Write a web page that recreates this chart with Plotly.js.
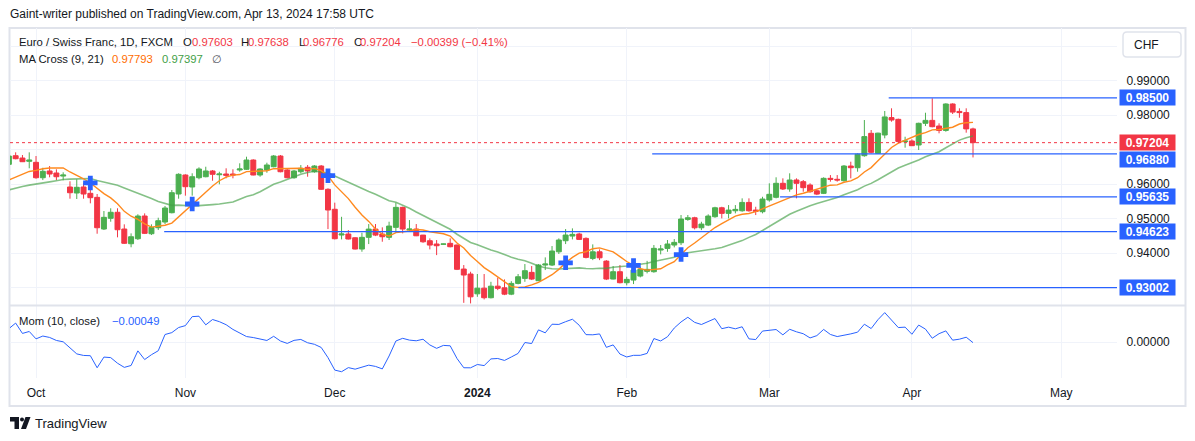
<!DOCTYPE html>
<html><head><meta charset="utf-8">
<script src="https://cdn.plot.ly/plotly-3.0.1.min.js"></script>
<style>html,body{margin:0;padding:0;background:#fff;overflow:hidden}#chart{width:1195px;height:441px}</style>
</head><body><div id="chart"></div>
<script>
// ---------- data ----------
const dates = [
"2023-09-26","2023-09-27","2023-09-28","2023-09-29",
"2023-10-02","2023-10-03","2023-10-04","2023-10-05","2023-10-06",
"2023-10-09","2023-10-10","2023-10-11","2023-10-12","2023-10-13",
"2023-10-16","2023-10-17","2023-10-18","2023-10-19","2023-10-20",
"2023-10-23","2023-10-24","2023-10-25","2023-10-26","2023-10-27",
"2023-10-30","2023-10-31",
"2023-11-01","2023-11-02","2023-11-03",
"2023-11-06","2023-11-07","2023-11-08","2023-11-09","2023-11-10",
"2023-11-13","2023-11-14","2023-11-15","2023-11-16","2023-11-17",
"2023-11-20","2023-11-21","2023-11-22","2023-11-23","2023-11-24",
"2023-11-27","2023-11-28","2023-11-29","2023-11-30",
"2023-12-01",
"2023-12-04","2023-12-05","2023-12-06","2023-12-07","2023-12-08",
"2023-12-11","2023-12-12","2023-12-13","2023-12-14","2023-12-15",
"2023-12-18","2023-12-19","2023-12-20","2023-12-21","2023-12-22",
"2023-12-25","2023-12-26","2023-12-27","2023-12-28","2023-12-29",
"2024-01-02","2024-01-03","2024-01-04","2024-01-05",
"2024-01-08","2024-01-09","2024-01-10","2024-01-11","2024-01-12",
"2024-01-15","2024-01-16","2024-01-17","2024-01-18","2024-01-19",
"2024-01-22","2024-01-23","2024-01-24","2024-01-25","2024-01-26",
"2024-01-29","2024-01-30","2024-01-31",
"2024-02-01","2024-02-02",
"2024-02-05","2024-02-06","2024-02-07","2024-02-08","2024-02-09",
"2024-02-12","2024-02-13","2024-02-14","2024-02-15","2024-02-16",
"2024-02-19","2024-02-20","2024-02-21","2024-02-22","2024-02-23",
"2024-02-26","2024-02-27","2024-02-28","2024-02-29",
"2024-03-01",
"2024-03-04","2024-03-05","2024-03-06","2024-03-07","2024-03-08",
"2024-03-11","2024-03-12","2024-03-13","2024-03-14","2024-03-15",
"2024-03-18","2024-03-19","2024-03-20","2024-03-21","2024-03-22",
"2024-03-25","2024-03-26","2024-03-27","2024-03-28","2024-03-29",
"2024-04-01","2024-04-02","2024-04-03","2024-04-04","2024-04-05",
"2024-04-08","2024-04-09","2024-04-10","2024-04-11","2024-04-12"];

const open = [
0.96576,0.96826,0.96759,0.96663,
0.96634,0.96188,0.96383,0.96325,0.96236,
0.95919,0.95745,0.95919,0.95736,0.95619,
0.94701,0.95012,0.95186,0.94701,0.94275,
0.94420,0.95078,0.94565,0.94739,0.94904,
0.95174,0.95716,
0.96267,0.95919,0.96188,
0.96217,0.96383,0.96275,0.96296,0.96296,
0.96412,0.96432,0.96701,0.96267,0.96412,
0.96507,0.96817,0.96412,0.96188,0.96362,
0.96490,0.96362,0.96527,0.95852,
0.95273,
0.94527,0.94556,0.94448,0.94121,0.94460,
0.94699,0.94555,0.94460,0.94749,0.95329,
0.94671,0.94700,0.94525,0.94362,0.94266,
0.94260,0.94286,0.94238,0.93541,0.93397,
0.92823,0.92987,0.92710,0.93045,
0.92997,0.92814,0.93125,0.93270,0.93445,
0.93203,0.93657,0.93657,0.94041,0.94362,
0.94497,0.94556,0.94430,0.93850,0.94041,
0.93771,0.93251,0.93464,
0.93145,0.93222,
0.93338,0.93474,0.93464,0.94092,0.94140,
0.94237,0.94304,0.94980,0.95027,0.94737,
0.94815,0.95058,0.95317,0.95155,0.95230,
0.95230,0.95472,0.95250,0.95203,
0.95542,
0.95620,0.96026,0.95861,0.96122,0.96074,
0.95977,0.95810,0.95735,0.96170,0.96142,
0.96102,0.96527,0.96478,0.96826,0.97475,
0.96894,0.97426,0.97930,0.97880,0.97232,
0.97252,0.97136,0.97765,0.97850,0.97687,
0.97558,0.98325,0.98110,0.98075,0.97603];

const high = [
0.96850,0.96924,0.96846,0.96924,
0.96817,0.96477,0.96526,0.96432,0.96345,
0.96084,0.96142,0.96042,0.95832,0.95716,
0.95223,0.95302,0.95302,0.94837,0.94575,
0.95128,0.95155,0.94837,0.95029,0.95368,
0.95832,0.96316,
0.96287,0.96316,0.96490,
0.96507,0.96412,0.96362,0.96461,0.96432,
0.96606,0.96797,0.96722,0.96461,0.96623,
0.96846,0.96846,0.96441,0.96412,0.96555,
0.96555,0.96555,0.96555,0.95881,
0.95465,
0.95055,0.94670,0.94460,0.94594,0.94845,
0.94845,0.94750,0.94913,0.95464,0.95348,
0.94961,0.94845,0.94530,0.94430,0.94381,
0.94275,0.94430,0.94250,0.93657,0.93463,
0.93397,0.93397,0.93171,0.93290,
0.93240,0.93190,0.93397,0.93686,0.93628,
0.93686,0.93879,0.94208,0.94430,0.94700,
0.94720,0.94594,0.94459,0.94256,0.94111,
0.93800,0.93628,0.93657,
0.93318,0.93751,
0.93608,0.93778,0.94237,0.94237,0.94382,
0.94410,0.95107,0.95107,0.95056,0.94911,
0.95127,0.95346,0.95346,0.95395,0.95395,
0.95590,0.95590,0.95346,0.95636,
0.96026,
0.96200,0.96170,0.96316,0.96170,0.96122,
0.96026,0.95851,0.96200,0.96265,0.96265,
0.96555,0.96652,0.96894,0.97860,0.97571,
0.97493,0.98122,0.98200,0.97900,0.97376,
0.97301,0.97783,0.98072,0.98490,0.97765,
0.98345,0.98345,0.98200,0.98200,0.97638];

const low = [
0.96540,0.96722,0.96643,0.96461,
0.96159,0.96120,0.96200,0.96120,0.96113,
0.95580,0.95571,0.95580,0.95446,0.94565,
0.94672,0.94913,0.94460,0.94267,0.94172,
0.94383,0.94556,0.94527,0.94672,0.94846,
0.95155,0.95580,
0.95668,0.95668,0.96142,
0.96200,0.96101,0.95997,0.96171,0.96171,
0.96362,0.96412,0.96258,0.96217,0.96333,
0.96490,0.96345,0.96171,0.96159,0.96316,
0.96217,0.96333,0.95832,0.94700,
0.94400,
0.94400,0.94400,0.94110,0.94043,0.94265,
0.94496,0.94333,0.94383,0.94594,0.94575,
0.94622,0.94496,0.94302,0.94111,0.93945,
0.94250,0.94170,0.93512,0.92562,0.92545,
0.92736,0.92660,0.92690,0.92930,
0.92785,0.92785,0.93097,0.93171,0.93222,
0.93193,0.93512,0.93628,0.93977,0.94265,
0.94400,0.94382,0.93850,0.93800,0.93800,
0.93222,0.93242,0.93126,
0.93068,0.93106,
0.93300,0.93416,0.93435,0.93966,0.94041,
0.94169,0.94237,0.94940,0.94690,0.94670,
0.94786,0.95027,0.95009,0.95009,0.95155,
0.95203,0.95203,0.95106,0.95155,
0.95493,
0.95590,0.95832,0.95782,0.95590,0.95782,
0.95752,0.95685,0.95715,0.96074,0.96074,
0.96074,0.96170,0.96362,0.96797,0.96894,
0.96875,0.97330,0.97812,0.97185,0.97058,
0.97107,0.96991,0.97686,0.97649,0.97475,
0.97522,0.98035,0.97927,0.97493,0.96776];

const close = [
0.96816,0.96739,0.96652,0.96701,
0.96188,0.96374,0.96296,0.96217,0.96265,
0.95753,0.95910,0.95716,0.95609,0.94739,
0.95040,0.95186,0.94681,0.94287,0.94478,
0.95078,0.94575,0.94749,0.94942,0.95310,
0.95754,0.96287,
0.95928,0.96217,0.96441,
0.96383,0.96287,0.96296,0.96258,0.96267,
0.96441,0.96701,0.96267,0.96441,0.96557,
0.96817,0.96362,0.96188,0.96383,0.96461,
0.96383,0.96527,0.95852,0.95252,
0.94420,
0.94556,0.94412,0.94121,0.94460,0.94699,
0.94525,0.94478,0.94787,0.95329,0.94700,
0.94700,0.94505,0.94331,0.94236,0.94217,
0.94266,0.94188,0.93533,0.93368,0.92736,
0.92987,0.92710,0.93045,0.92981,
0.92814,0.93125,0.93318,0.93493,0.93251,
0.93658,0.93686,0.94063,0.94382,0.94527,
0.94546,0.94401,0.93879,0.94041,0.93867,
0.93251,0.93464,0.93145,
0.93242,0.93512,
0.93532,0.93532,0.94141,0.94121,0.94266,
0.94314,0.94991,0.95027,0.94737,0.94844,
0.95077,0.95317,0.95155,0.95250,0.95270,
0.95472,0.95230,0.95213,0.95570,
0.95707,
0.96026,0.95861,0.96122,0.96026,0.95900,
0.95782,0.95714,0.96170,0.96142,0.96122,
0.96527,0.96478,0.96870,0.97380,0.96924,
0.97480,0.97950,0.97860,0.97240,0.97253,
0.97116,0.97765,0.97850,0.97667,0.97558,
0.98325,0.98090,0.98075,0.97603,0.97204];

// closes before the first visible bar (estimated from where the MA lines start)
const warmupCloses = [0.9560,0.9575,0.9580,0.9565,0.9570,0.9555,0.9552,0.9548,0.9558,0.9570,
                      0.9580,0.9530,0.9600,0.9590,0.9595,0.9592,0.9595,0.9610,0.9625,0.9620];

const levels = [0.98500, 0.96880, 0.95635, 0.94623, 0.93002];
const levelLabels = ["0.98500","0.96880","0.95635","0.94623","0.93002"];
const levelStarts = ["2024-03-27 02:00","2024-02-07 06:00","2024-03-05 02:00","2023-10-27 09:00","2024-01-10 13:00"];
const lastPrice = 0.97204;
const lastPriceLabel = "0.97204";

const monthTicks = ["2023-10-02","2023-11-01","2023-12-01","2024-01-02","2024-02-01","2024-03-01","2024-04-01","2024-05-01"];
const monthLabels = ["Oct","Nov","Dec","<b>2024</b>","Feb","Mar","Apr","May"];
const priceTicks = [0.93,0.94,0.95,0.96,0.97,0.98,0.99,1.00];
const priceTickLabels = ["","0.94000","0.95000","0.96000","","0.98000","0.99000",""];

const headerText = "Gaint-writer published on TradingView.com, Apr 13, 2024 17:58 UTC";
const symbolText = "Euro / Swiss Franc, 1D, FXCM";
const ohlcLetters = ["O","H","L","C"];
const ohlcValues = ["0.97603","0.97638","0.96776","0.97204"];
const changeText = "−0.00399 (−0.41%)";
const maText = "MA Cross (9, 21)";
const ma1Text = "0.97793", ma2Text = "0.97397";
const momText = "Mom (10, close)", momValText = "−0.00049";

// ---------- derived series ----------
const X = dates.map(d => d + " 12:00");
const all = warmupCloses.concat(close);
const W0 = warmupCloses.length;
function sma(n){
  return close.map((_, i) => {
    const j = i + W0; if (j - n + 1 < 0) return null;
    let s = 0; for (let k = j - n + 1; k <= j; k++) s += all[k];
    return s / n;
  });
}
const ma9 = sma(9), ma21 = sma(21);
const mom = close.map((c, i) => c - all[i + W0 - 10]);
const cx = [], cy = [];
for (let i = 1; i < close.length; i++) {
  const a = ma9[i-1] - ma21[i-1], b = ma9[i] - ma21[i];
  if ((a >= 0 && b < 0) || (a <= 0 && b > 0)) { cx.push(X[i]); cy.push(ma9[i]); }
}

// ---------- geometry helpers ----------
const PL = 10, PR = 1117, PT = 28, PB = 378;
const px = v => (v - PL) / (PR - PL);
const py = v => (PB - v) / (PB - PT);
const FONT = "Liberation Sans, Arial, sans-serif";
const DARK = "#131722", RED = "#f23645", BLUE = "#2962ff";
const xRange = ["2023-09-26 16:00", "2024-05-13 17:00"];
const breaks = [{bounds: ["sat", "mon"]}, {values: ["2024-01-01"]}];

const traces = [
  {type: "candlestick", x: X, open: open, high: high, low: low, close: close,
   xaxis: "x", yaxis: "y", whiskerwidth: 0, hoverinfo: "none",
   increasing: {line: {color: "#4caf50", width: 1}, fillcolor: "#4caf50"},
   decreasing: {line: {color: RED, width: 1}, fillcolor: RED}},
  {type: "scatter", mode: "lines", x: X, y: ma21, xaxis: "x", yaxis: "y",
   line: {color: "rgba(67,160,71,0.65)", width: 1.6}, hoverinfo: "none"},
  {type: "scatter", mode: "lines", x: X, y: ma9, xaxis: "x", yaxis: "y",
   line: {color: "#ff8a1f", width: 1.4}, hoverinfo: "none"},
  {type: "scatter", mode: "markers", x: cx, y: cy, xaxis: "x", yaxis: "y",
   marker: {symbol: "cross", size: 12, color: BLUE, line: {width: 0}}, hoverinfo: "none"},
  {type: "scatter", mode: "lines", x: X, y: mom, xaxis: "x2", yaxis: "y2",
   line: {color: "#2962ff", width: 1}, hoverinfo: "none"}
];

const shapes = [];
shapes.push({type: "rect", xref: "paper", yref: "paper", x0: px(9.5), x1: px(1185.5), y0: py(406), y1: py(28),
  line: {color: "#e0e3eb", width: 2}, layer: "below"});
shapes.push({type: "line", xref: "paper", yref: "paper", x0: px(9.5), x1: px(1185.5), y0: py(305.5), y1: py(305.5),
  line: {color: "#e0e3eb", width: 2}});
shapes.push({type: "line", xref: "paper", yref: "y", x0: 0, x1: 1, y0: lastPrice, y1: lastPrice,
  line: {color: RED, width: 1, dash: "dot"}});
levels.forEach((lv, i) => shapes.push({type: "line", xref: "x", yref: "y", x0: levelStarts[i], x1: xRange[1],
  y0: lv, y1: lv, line: {color: BLUE, width: 1.2}}));
shapes.push({type: "path", xref: "paper", yref: "paper",
  path: `M${px(1127)},${py(32)} L${px(1177)},${py(32)} Q${px(1181)},${py(32)} ${px(1181)},${py(36)} L${px(1181)},${py(53)} Q${px(1181)},${py(57)} ${px(1177)},${py(57)} L${px(1127)},${py(57)} Q${px(1123)},${py(57)} ${px(1123)},${py(53)} L${px(1123)},${py(36)} Q${px(1123)},${py(32)} ${px(1127)},${py(32)} Z`,
  line: {color: "#e0e3eb", width: 1.5}, fillcolor: "rgba(0,0,0,0)"});
shapes.push({type: "path", xref: "paper", yref: "paper",
  path: `M${px(10)},${py(417)} L${px(19)},${py(417)} L${px(19)},${py(429)} L${px(14.5)},${py(429)} L${px(14.5)},${py(421.5)} L${px(10)},${py(421.5)} Z`,
  line: {width: 0}, fillcolor: DARK});
shapes.push({type: "circle", xref: "paper", yref: "paper", x0: px(20), x1: px(24), y0: py(421.5), y1: py(417.5),
  line: {width: 0}, fillcolor: DARK});
shapes.push({type: "path", xref: "paper", yref: "paper",
  path: `M${px(25.5)},${py(417)} L${px(30.5)},${py(417)} L${px(26)},${py(429)} L${px(21)},${py(429)} Z`,
  line: {width: 0}, fillcolor: DARK});

const ann = [];
const txt = (X0, Y0, text, size, color) => ({xref: "paper", yref: "paper", x: px(X0 - 1.5), y: py(Y0),
  xanchor: "left", yanchor: "middle", showarrow: false, text: text, font: {family: FONT, size: size, color: color}});
const LF = 11.3;
ann.push(txt(9, 14, headerText, 12, DARK));
ann.push(txt(18.3, 42, symbolText, LF, DARK));
const letterX = [182.7, 240, 298.3, 353.3], valueX = [191.7, 247.3, 302.7, 359];
ohlcLetters.forEach((l, i) => {
  ann.push(txt(letterX[i], 42, l, LF, DARK));
  ann.push(txt(valueX[i], 42, ohlcValues[i], LF, RED));
});
ann.push(txt(410, 42, changeText, LF, RED));
ann.push(txt(18.3, 59, maText, LF, DARK));
ann.push(txt(111, 59, ma1Text, LF, "#ff6d00"));
ann.push(txt(161.7, 59, ma2Text, LF, "#43a047"));
ann.push(txt(211.7, 59, "∅", LF, "#50535e"));
ann.push(txt(18.3, 321, momText, LF, DARK));
ann.push(txt(111, 321, momValText, LF, BLUE));
ann.push(txt(1133, 44.5, "CHF", 12, DARK));
ann.push(txt(34, 423, "TradingView", 13, DARK));
const boxLabel = (val, text, color, shift) => ({xref: "paper", yref: "y", x: px(1118.5), y: val, xanchor: "left", yanchor: "middle",
  yshift: shift || 0, showarrow: false, text: "<b>" + text + "</b>", font: {family: FONT, size: 12, color: "#ffffff"},
  bgcolor: color, width: 55, height: 15, align: "center", borderpad: 0});
ann.push(boxLabel(lastPrice, lastPriceLabel, RED, 0));
levels.forEach((lv, i) => ann.push(boxLabel(lv, levelLabels[i], BLUE, i === 1 ? -6 : 0)));

const axisX = {type: "date", range: xRange, rangebreaks: breaks, tickvals: monthTicks.map(d => d + " 12:00"),
  ticktext: monthLabels, showgrid: true, gridcolor: "#f0f3fa", gridwidth: 1, zeroline: false, showline: false,
  fixedrange: true, tickfont: {family: FONT, size: 12, color: DARK}};
const layout = {
  width: 1195, height: 441, margin: {l: PL, r: 1195 - PR, t: PT, b: 441 - PB},
  paper_bgcolor: "#ffffff", plot_bgcolor: "#ffffff", showlegend: false,
  boxgap: 0.27, boxgroupgap: 0, font: {family: FONT, color: DARK},
  xaxis: Object.assign({}, axisX, {anchor: "y", showticklabels: false, rangeslider: {visible: false}}),
  xaxis2: Object.assign({}, axisX, {anchor: "y2", matches: "x", showticklabels: true, ticks: "outside", ticklen: 4,
    tickcolor: "rgba(0,0,0,0)"}),
  yaxis: {domain: [py(305), 1], range: [0.92499, 1.005275], side: "right", tickvals: priceTicks, ticktext: priceTickLabels,
    showgrid: true, gridcolor: "#f0f3fa", zeroline: false, showline: false, ticks: "outside", ticklen: 6,
    tickcolor: "rgba(0,0,0,0)", tickfont: {family: FONT, size: 12, color: DARK}, fixedrange: true},
  yaxis2: {domain: [0, py(306)], range: [-0.0274, 0.0274], side: "right", tickvals: [0], ticktext: ["0.00000"],
    showgrid: true, gridcolor: "#f0f3fa", zeroline: false, showline: false, ticks: "outside", ticklen: 6,
    tickcolor: "rgba(0,0,0,0)", tickfont: {family: FONT, size: 12, color: DARK}, fixedrange: true},
  shapes: shapes, annotations: ann
};
Plotly.newPlot("chart", traces, layout, {staticPlot: true, displayModeBar: false});
</script></body></html>
